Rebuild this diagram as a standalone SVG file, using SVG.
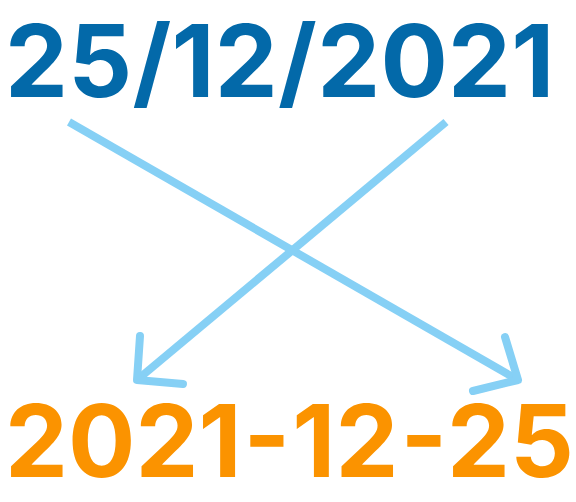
<svg xmlns="http://www.w3.org/2000/svg" width="576" height="502" viewBox="0 0 576 502">
<style>
.t{font-family:Inter,"Noto Sans","DejaVu Sans",sans-serif;font-weight:700;font-size:100px}
.a{fill:none;stroke:#86d0f5;stroke-width:8;stroke-linecap:round;stroke-linejoin:round}
</style>
<rect width="576" height="502" fill="#ffffff"/>
<g id="connectors">
<path class="a" d="M69,122 L518,380" style="stroke-linecap:butt"/>
<path class="a" d="M505,337 L518,380 L473,391"/>
<path class="a" d="M446,122 L137,380" style="stroke-linecap:butt"/>
<path class="a" d="M140,336 L137,380 L183,384"/>
</g>
<g id="source"><text class="t" x="5" y="97" fill="#0369a9" letter-spacing="0.25">25/12/2021</text></g>
<g id="target"><text class="t" x="5" y="477" fill="#fb9300">2021<tspan dx="2">-</tspan><tspan dx="2">12</tspan><tspan dx="2">-</tspan><tspan dx="2">25</tspan></text></g>
</svg>
